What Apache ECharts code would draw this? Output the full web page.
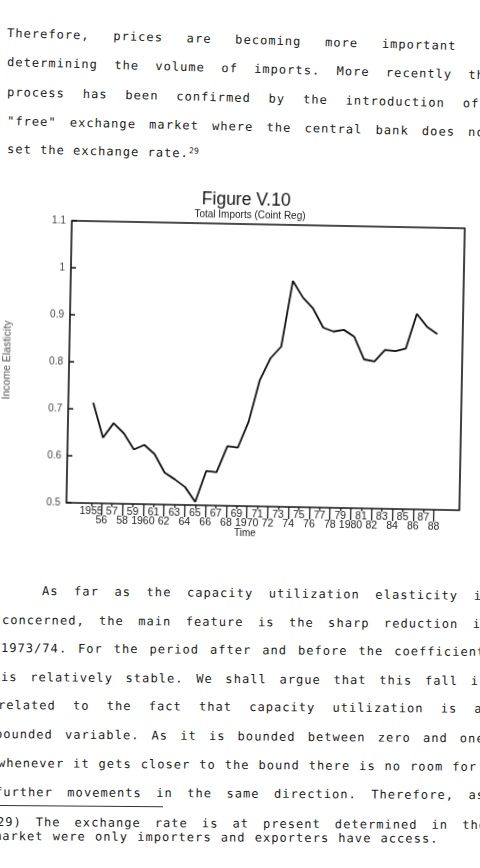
<!DOCTYPE html>
<html>
<head>
<meta charset="utf-8">
<script src="https://cdn.jsdelivr.net/npm/echarts@6/dist/echarts.min.js"></script>
<style>
html, body { margin: 0; padding: 0; background: #fff; }
#page { position: relative; width: 480px; height: 868px; overflow: hidden; background: #fff; }
.ln {
	position: absolute; height: 14px; line-height: 14px;
	font-family: 'DejaVu Sans Mono', monospace; font-size: 12px; letter-spacing: 1.05px;
	color: #1c1c1c; text-align: justify; text-align-last: justify;
	transform-origin: 0 50%;
}
.ln.plain { text-align: left; text-align-last: left; white-space: nowrap; }
.ln sup { font-size: 8px; line-height: 0; vertical-align: 4px; letter-spacing: 0.3px; }
#rule { position: absolute; left: 0; top: 805px; width: 163px; border-top: 1px solid #333; transform: rotate(0.4deg); transform-origin: 0 0; }
#chart { position: absolute; left: 0; top: 190px; width: 480px; height: 360px; transform: rotate(1.1deg); transform-origin: 50% 50%; }
</style>
</head>
<body>
<div id="page">
	<div id="chart"></div>
	<div id="rule"></div>
</div>
<script>
// chart values
var years = [1955, 1956, 1957, 1958, 1959, 1960, 1961, 1962, 1963, 1964, 1965, 1966,
	1967, 1968, 1969, 1970, 1971, 1972, 1973, 1974, 1975, 1976, 1977, 1978, 1979,
	1980, 1981, 1982, 1983, 1984, 1985, 1986, 1987, 1988];
var elasticity = [0.714, 0.640, 0.671, 0.650, 0.616, 0.626, 0.607, 0.568, 0.554, 0.538,
	0.507, 0.573, 0.571, 0.627, 0.624, 0.680, 0.769, 0.816, 0.841, 0.981, 0.946,
	0.923, 0.883, 0.875, 0.879, 0.865, 0.817, 0.813, 0.838, 0.836, 0.842, 0.916,
	0.889, 0.874];
var oddYears = years.filter(function(y) { return y % 2 === 1; });
var evenYears = years.filter(function(y) { return y % 2 === 0; });

var titleText = 'Figure V.10';
var subtitleText = 'Total Imports (Coint Reg)';
var yName = 'Income Elasticity';
var xName = 'Time';

// page text: [text, left, centre y, right end, slope in degrees]
var textLines = [
	['Therefore, prices are becoming more important', 7, 33.8, 456.5, 1.65],
	['determining the volume of imports. More recently this', 7.3, 62.1, 502, 1.58],
	['process has been confirmed by the introduction of', 7, 92.0, 479.5, 1.42],
	['"free" exchange market where the central bank does not', 7.3, 121.1, 493.5, 1.38],
	['As far as the capacity utilization elasticity is', 41.7, 591.6, 490, 0.63],
	['concerned, the main feature is the sharp reduction in', 1.7, 620.4, 489, 0.5],
	['1973/74. For the period after and before the coefficient', 0.7, 648.8, 485, 0.47],
	['is relatively stable. We shall argue that this fall is', 0.7, 677, 487, 0.5],
	['related to the fact that capacity utilization is a', -1.7, 705.5, 483, 0.45],
	['bounded variable. As it is bounded between zero and one,', -5, 734.1, 493, 0.53],
	['whenever it gets closer to the bound there is no room for', -2, 763.1, 477, 0.46],
	['further movements in the same direction. Therefore, as', -5, 792.1, 485, 0.37],
	['29) The exchange rate is at present determined in the', -3, 822.3, 487, 0.37],
	['market were only importers and exporters have access.', -6.5, 836.7, 438, 0.35]
];

var page = document.getElementById('page');
textLines.forEach(function(l) {
	var d = document.createElement('div');
	d.className = 'ln';
	d.textContent = l[0];
	d.style.left = l[1] + 'px';
	d.style.top = (l[2] - 7.5) + 'px';
	d.style.width = (l[3] - l[1]) + 'px';
	d.style.transform = 'rotate(' + l[4] + 'deg)';
	page.appendChild(d);
});
var last = document.createElement('div');
last.className = 'ln plain';
last.innerHTML = 'set the exchange rate.<sup>29</sup>';
last.style.left = '7px';
last.style.top = (149.8 - 7.5) + 'px';
last.style.transform = 'rotate(1.35deg)';
page.appendChild(last);

var yearLabel = function(v) {
	v = Math.round(v);
	if (v === 1955 || v % 10 === 0) return String(v);
	return String(v).slice(2);
};

var labelFont = 'Liberation Sans';
var xMin = 1952.6;
var xMax = 1990.45;

var myChart = echarts.init(document.getElementById('chart'));
var option = {
	animation: false,
	grid: {
		left: 69, right: 18, top: 34, bottom: 44,
		show: true, borderColor: '#111', borderWidth: 1.6
	},
	xAxis: [{
		type: 'value', min: xMin, max: xMax, position: 'bottom',
		axisLine: { show: false },
		splitLine: { show: false },
		axisTick: { show: true, customValues: oddYears, length: 3, lineStyle: { color: '#111', width: 1.2 } },
		axisLabel: { customValues: oddYears, formatter: yearLabel, margin: 2.5, fontSize: 10.5, color: '#222', fontFamily: labelFont }
	}, {
		type: 'value', min: xMin, max: xMax, position: 'bottom', offset: 0,
		axisLine: { show: false },
		splitLine: { show: false },
		axisTick: { show: true, customValues: evenYears, length: 12, lineStyle: { color: '#111', width: 1.2 } },
		axisLabel: { customValues: evenYears, formatter: yearLabel, margin: 12, fontSize: 10.5, color: '#222', fontFamily: labelFont }
	}],
	yAxis: {
		type: 'value', min: 0.5, max: 1.1, interval: 0.1,
		axisLine: { show: false },
		splitLine: { show: false },
		axisTick: { show: true, inside: true, length: 5, lineStyle: { color: '#111', width: 1.5 } },
		axisLabel: {
			margin: 6, fontSize: 10, color: '#444', fontFamily: labelFont,
			formatter: function(v) { return String(Math.round(v * 10) / 10); }
		}
	},
	graphic: [
		{ type: 'text', x: 243, y: 10.5, style: { text: titleText, fontSize: 17.5, fontFamily: labelFont, fill: '#111', align: 'center', verticalAlign: 'middle' } },
		{ type: 'text', x: 247, y: 25.5, style: { text: subtitleText, fontSize: 10, fontFamily: labelFont, fill: '#222', align: 'center', verticalAlign: 'middle' } },
		{ type: 'text', x: 248, y: 343, style: { text: xName, fontSize: 10, fontFamily: labelFont, fill: '#222', align: 'center', verticalAlign: 'middle' } },
		{ type: 'text', x: 7, y: 174.5, rotation: Math.PI / 2, style: { text: yName, fontSize: 10.5, fontFamily: labelFont, fill: '#555', align: 'center', verticalAlign: 'middle' } }
	],
	series: [{
		type: 'line',
		xAxisIndex: 0,
		data: years.map(function(y, i) { return [y, elasticity[i]]; }),
		symbol: 'none',
		lineStyle: { color: '#111', width: 1.8 }
	}]
};
myChart.setOption(option);
</script>
</body>
</html>
